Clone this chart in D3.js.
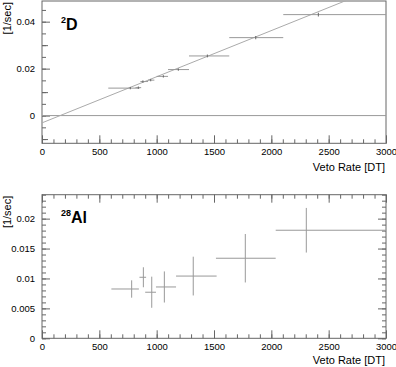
<!DOCTYPE html>
<html>
<head>
<meta charset="utf-8">
<script src="https://cdn.jsdelivr.net/npm/d3@7"></script>
<style>
  body { margin: 0; background: #fff; }
  svg { display: block; font-family: "Liberation Sans", Arial, sans-serif; }
</style>
</head>
<body>
<div id="chart-area"></div>
<script>
// 2D panel: veto rate (centre, low edge, high edge) and rate [1/sec]
const dVeto   = [770, 840, 880, 948, 1058, 1189, 1442, 1864, 2410];
const dVetoLo = [578, 815, 858, 925, 1000, 1099, 1282, 1633, 2104];
const dVetoHi = [850, 865, 925, 980, 1099, 1282, 1633, 2104, 3000];
const dRate   = [0.0117, 0.0119, 0.0145, 0.0151, 0.0167, 0.0196, 0.0254, 0.0332, 0.0430];
const dErr    = [0.0005, 0.0005, 0.0005, 0.0005, 0.0005, 0.0005, 0.0006, 0.0007, 0.0008];
const fitIntercept = -0.0031;
const fitSlope = 0.00001965;

// 28Al panel
const alVeto   = [782, 884, 957, 1067, 1319, 1773, 2305];
const alVetoLo = [605, 850, 900, 994, 1169, 1517, 2038];
const alVetoHi = [845, 908, 994, 1169, 1523, 2038, 3000];
const alRate   = [0.00824, 0.0102, 0.0077, 0.00858, 0.0104, 0.01338, 0.01806];
const alErr    = [0.00145, 0.00167, 0.0026, 0.0026, 0.00324, 0.00405, 0.00373];

const xTicks = [0, 500, 1000, 1500, 2000, 2500, 3000];
const dYTicks = [0, 0.02, 0.04];
const alYTicks = [0, 0.005, 0.01, 0.015, 0.02];

const width = 396, height = 367;
const frameColor = "#666", barColor = "#999";

const svg = d3.select("#chart-area").append("svg")
    .attr("width", width)
    .attr("height", height);

svg.append("rect").attr("width", width).attr("height", height).attr("fill", "#fff");

function panel(cfg) {
    const x = d3.scaleLinear().domain([0, 3000]).range([42, 386]);
    const y = d3.scaleLinear().domain(cfg.yDomain).range([cfg.bottom, cfg.top]);
    const g = svg.append("g");

    // minor ticks
    const minorX = d3.range(0, 3001, 100);
    g.append("g").attr("transform", "translate(0," + cfg.bottom + ")")
        .call(d3.axisBottom(x).tickValues(minorX).tickSize(-4).tickFormat(""));
    g.append("g").attr("transform", "translate(42,0)")
        .call(d3.axisLeft(y).tickValues(cfg.yMinor).tickSize(-4).tickFormat(""));
    if (cfg.yMid) {
        g.append("g").attr("transform", "translate(42,0)")
            .call(d3.axisLeft(y).tickValues(cfg.yMid).tickSize(-6).tickFormat(""));
    }
    if (cfg.boxTicks) {
        g.append("g").attr("transform", "translate(0," + cfg.top + ")")
            .call(d3.axisTop(x).tickValues(minorX).tickSize(-4).tickFormat(""));
        g.append("g").attr("transform", "translate(0," + cfg.top + ")")
            .call(d3.axisTop(x).tickValues(xTicks).tickSize(-8).tickFormat(""));
        g.append("g").attr("transform", "translate(386,0)")
            .call(d3.axisRight(y).tickValues(cfg.yMinor).tickSize(-4).tickFormat(""));
        g.append("g").attr("transform", "translate(386,0)")
            .call(d3.axisRight(y).tickValues(cfg.yTicks).tickSize(-8).tickFormat(""));
    }

    // major ticks with labels
    g.append("g").attr("class", "xmaj").attr("transform", "translate(0," + cfg.bottom + ")")
        .call(d3.axisBottom(x).tickValues(xTicks).tickSize(-8).tickPadding(5).tickFormat(d3.format("d")));
    g.append("g").attr("class", "ymaj").attr("transform", "translate(42,0)")
        .call(d3.axisLeft(y).tickValues(cfg.yTicks).tickSize(-8).tickPadding(7).tickFormat(d => d === 0 ? "0" : String(+d.toFixed(4))));

    g.selectAll(".domain").remove();
    g.selectAll(".tick line").attr("stroke", frameColor);
    g.selectAll(".tick text").attr("fill", "#000").attr("font-size", 9.5)
        .attr("font-family", "Liberation Sans, Arial, sans-serif");

    // frame
    g.append("rect")
        .attr("x", 42).attr("y", cfg.top)
        .attr("width", 344).attr("height", cfg.bottom - cfg.top)
        .attr("fill", "none").attr("stroke", frameColor);

    const clipId = "clip" + cfg.id;
    svg.append("clipPath").attr("id", clipId).append("rect")
        .attr("x", 42).attr("y", cfg.top)
        .attr("width", 344).attr("height", cfg.bottom - cfg.top);
    const plot = g.append("g").attr("clip-path", "url(#" + clipId + ")");

    if (cfg.fit) {
        plot.append("line")
            .attr("x1", x(0)).attr("y1", y(0))
            .attr("x2", x(3000)).attr("y2", y(0))
            .attr("stroke", barColor);
        plot.append("line")
            .attr("x1", x(0)).attr("y1", y(fitIntercept))
            .attr("x2", x(3000)).attr("y2", y(fitIntercept + fitSlope * 3000))
            .attr("stroke", "#aaa");
    }

    const pts = cfg.veto.map((v, i) => ({
        v: v, lo: cfg.lo[i], hi: cfg.hi[i], r: cfg.rate[i], e: cfg.err[i]
    }));
    plot.selectAll("line.xerr").data(pts).join("line").attr("class", "xerr")
        .attr("x1", d => x(d.lo)).attr("x2", d => x(d.hi))
        .attr("y1", d => y(d.r)).attr("y2", d => y(d.r))
        .attr("stroke", barColor);
    plot.selectAll("line.yerr").data(pts).join("line").attr("class", "yerr")
        .attr("x1", d => x(d.v)).attr("x2", d => x(d.v))
        .attr("y1", d => y(d.r - d.e)).attr("y2", d => y(d.r + d.e))
        .attr("stroke", cfg.fit ? "#666" : barColor);

    // axis titles
    svg.append("text")
        .attr("x", 385).attr("y", cfg.bottom + cfg.titleDy)
        .attr("text-anchor", "end").attr("font-size", 11)
        .text("Veto Rate [DT]");
    svg.append("text")
        .attr("transform", "translate(11," + (cfg.top + 1) + ") rotate(-90)")
        .attr("text-anchor", "end").attr("font-size", 11)
        .text("[1/sec]");

    // isotope label
    const lab = svg.append("text")
        .attr("x", 61).attr("y", cfg.top + cfg.labDy)
        .attr("font-weight", "bold");
    lab.append("tspan").attr("font-size", 9).attr("dy", -7).text(cfg.sup);
    lab.append("tspan").attr("font-size", 16).attr("dy", 7).text(cfg.name);
}

panel({
    id: "d", top: 1, bottom: 143.3, yDomain: [-0.0118, 0.0488],
    yTicks: dYTicks, yMid: [-0.01, 0.01, 0.03],
    yMinor: d3.range(-0.01, 0.0451, 0.005),
    veto: dVeto, lo: dVetoLo, hi: dVetoHi, rate: dRate, err: dErr,
    fit: true, boxTicks: false, sup: "2", name: "D", labDy: 29, titleDy: 28
});

panel({
    id: "al", top: 194.7, bottom: 338.3, yDomain: [0, 0.024],
    yTicks: alYTicks, yMid: null,
    yMinor: d3.range(0, 0.0241, 0.001),
    veto: alVeto, lo: alVetoLo, hi: alVetoHi, rate: alRate, err: alErr,
    fit: false, boxTicks: true, sup: "28", name: "Al", labDy: 28.6, titleDy: 25.5
});
</script>
</body>
</html>
